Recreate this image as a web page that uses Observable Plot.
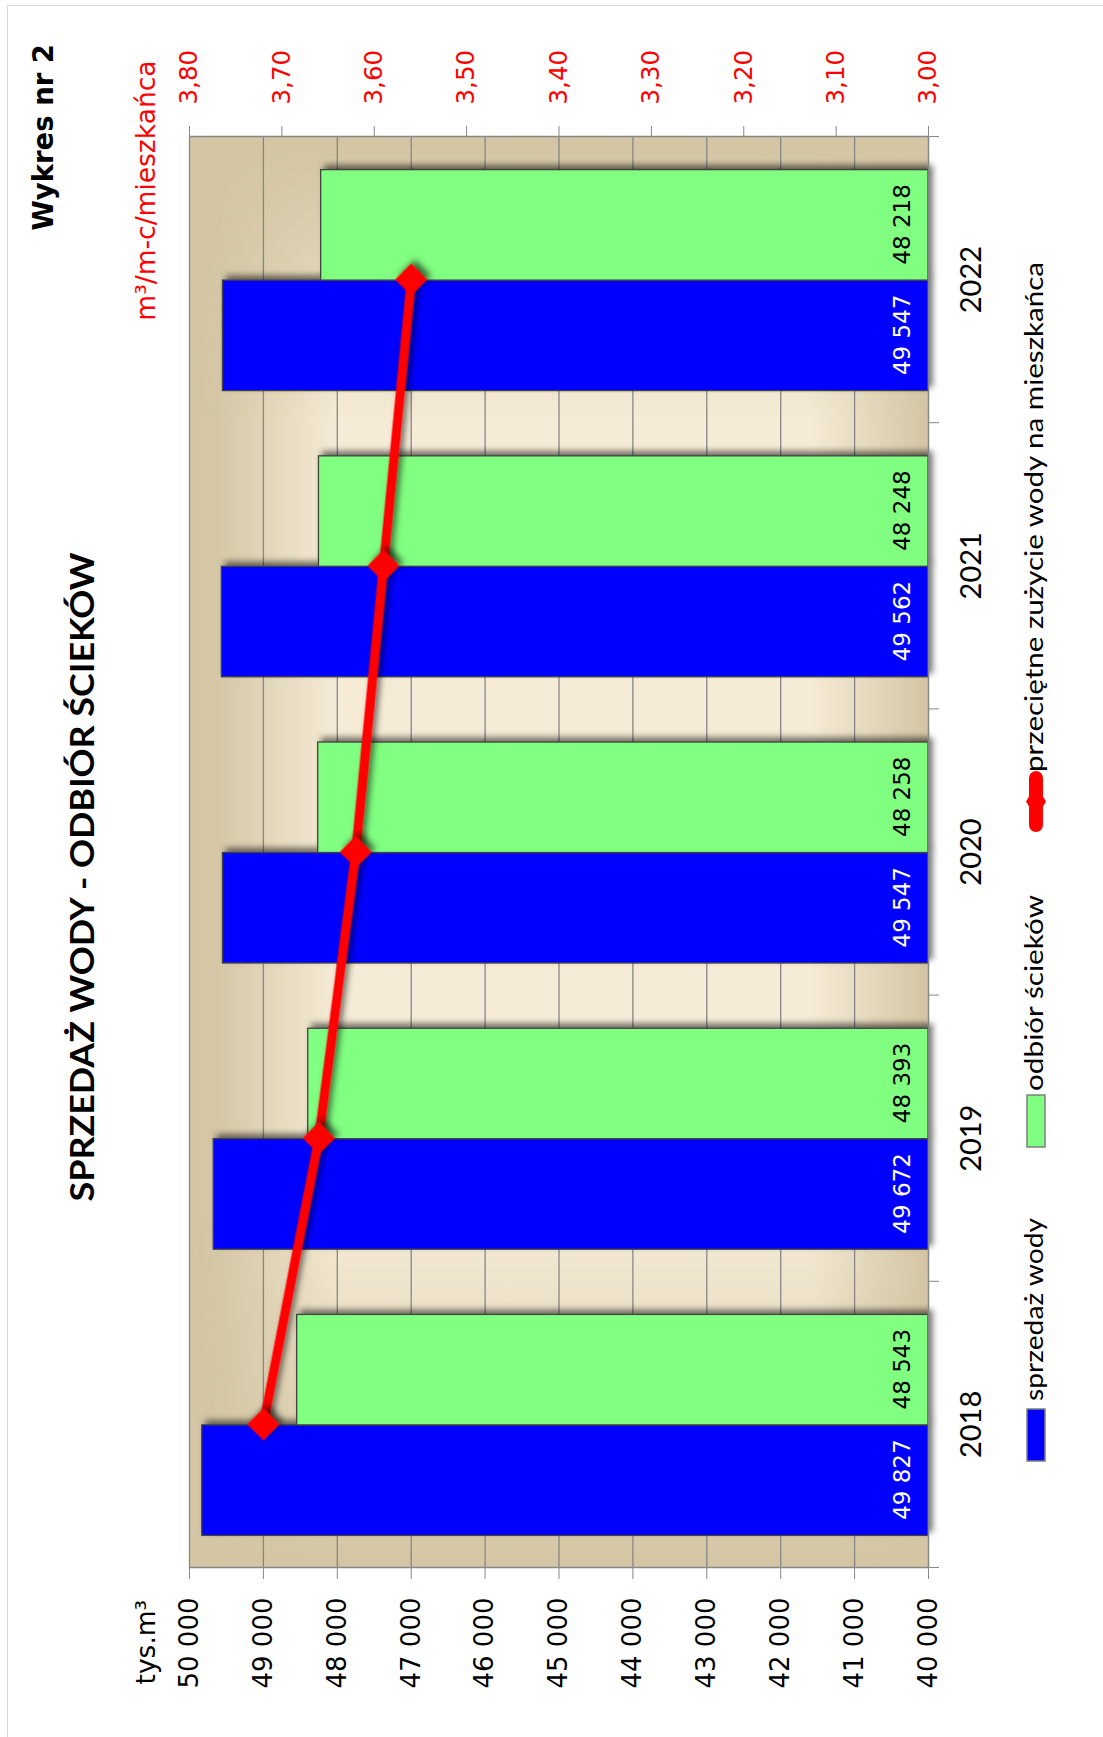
<!DOCTYPE html>
<html>
<head>
<meta charset="utf-8">
<script src="https://cdn.jsdelivr.net/npm/d3@7"></script>
<script src="https://cdn.jsdelivr.net/npm/@observablehq/plot@0.6"></script>
<style>
  html, body { margin: 0; padding: 0; background: #fff; overflow: hidden; width: 1103px; height: 1737px; }
  #land { position: absolute; left: 0; top: 0; width: 1737px; height: 1103px; background: #fff;
          transform-origin: 0 0; transform: translate(0px, 1737px) rotate(-90deg); }
  #border { position: absolute; left: -10px; top: 7px; width: 1742px; height: 1200px; box-sizing: border-box;
            border: 1.5px solid #d9d9d9; }
  #head { position: absolute; left: 0; top: 0; }
  #chart { position: absolute; left: 0; top: 100px; width: 1737px; height: 900px; }
  #legend { position: absolute; left: 0; top: 1000px; }
</style>
</head>
<body>
<div id="land">
  <div id="border"></div>
  <svg id="head" width="1737" height="100"></svg>
  <div id="chart"></div>
  <svg id="legend" width="1737" height="103"></svg>
</div>
<script>
// ---------- data ----------
const years = ["2018", "2019", "2020", "2021", "2022"];
const sprzedazWody = [49827, 49672, 49547, 49562, 49547];
const odbiorSciekow = [48543, 48393, 48258, 48248, 48218];
const zuzycieNaMieszkanca = [3.72, 3.66, 3.62, 3.59, 3.56];
const leftTicks = [40000, 41000, 42000, 43000, 44000, 45000, 46000, 47000, 48000, 49000, 50000];
const rightTicks = [3.00, 3.10, 3.20, 3.30, 3.40, 3.50, 3.60, 3.70, 3.80];
const seriesNames = ["sprzedaż wody", "odbiór ścieków", "przeciętne zużycie wody na mieszkańca"];
const titleText = "SPRZEDAŻ WODY - ODBIÓR ŚCIEKÓW";
const chartNo = "Wykres nr 2";
const leftUnit = "tys.m³";
const rightUnit = "m³/m-c/mieszkańca";

// ---------- style ----------
const BLUE = "#0000FF", GREEN = "#80FF80", RED = "#FF0000";
const GRAY = "#878787", OUTLINE = "#404040";
const TAN = "#D4C6A4", CREAM = "#F5EBD6";
const PAD = 0.114; // outer gap of each category band

const pl = d3.formatLocale({decimal: ",", thousands: "\u00a0", grouping: [3], currency: ["", ""]});
const fmtInt = pl.format(",.0f");
const fmtR = pl.format(".2f");
const toY = d3.scaleLinear().domain([rightTicks[0], rightTicks[rightTicks.length - 1]])
                            .range([leftTicks[0], leftTicks[leftTicks.length - 1]]);
const idx = d3.range(years.length);
const base = leftTicks[0];

const plot = Plot.plot({
  width: 1737, height: 900,
  marginLeft: 169, marginRight: 137, marginTop: 89, marginBottom: 72,
  x: {domain: [0, years.length], axis: null},
  y: {domain: [leftTicks[0], leftTicks[leftTicks.length - 1]], axis: null},
  style: {fontFamily: "'DejaVu Sans', sans-serif", background: "transparent", overflow: "visible"},
  marks: [
    Plot.frame({fill: TAN}),
    Plot.frame({fill: "url(#creamX)"}),
    Plot.gridY(leftTicks.filter(t => t > base), {stroke: GRAY, strokeOpacity: 1, strokeWidth: 1.3}),
    Plot.rect(idx, {x1: i => i + PAD, x2: i => i + 0.5, y1: base, y2: i => sprzedazWody[i],
                    fill: BLUE, stroke: OUTLINE, strokeWidth: 1.3}),
    Plot.rect(idx, {x1: i => i + 0.5, x2: i => i + 1 - PAD, y1: base, y2: i => odbiorSciekow[i],
                    fill: GREEN, stroke: OUTLINE, strokeWidth: 1.3}),
    Plot.ruleX([0, years.length], {stroke: GRAY, strokeWidth: 1.5}),
    Plot.ruleY([base], {stroke: GRAY, strokeWidth: 1.5}),
    Plot.axisY(leftTicks, {anchor: "left", tickSize: 11, tickPadding: 19, tickFormat: fmtInt,
                           stroke: GRAY, fill: "#000", fontSize: 26, label: null}),
    Plot.axisY(rightTicks.map(v => toY(v)), {anchor: "right", tickSize: 10, tickPadding: 22,
                           tickFormat: y => fmtR(toY.invert(y)), stroke: GRAY, fill: RED, fontSize: 24.5, label: null}),
    Plot.axisX(d3.range(years.length + 1), {anchor: "bottom", tickSize: 11, tickFormat: () => "",
                           stroke: GRAY, label: null}),
    Plot.axisX(idx.map(i => i + 0.5), {anchor: "bottom", tickSize: 0, tickPadding: 32,
                           tickFormat: d => years[Math.floor(d)], fill: "#000", fontSize: 29,
                           fontFamily: "Lato, sans-serif", label: null}),
    Plot.line(idx, {x: i => i + 0.5, y: i => toY(zuzycieNaMieszkanca[i]), stroke: RED, strokeWidth: 9,
                    strokeLinejoin: "round"}),
    Plot.dot(idx, {x: i => i + 0.5, y: i => toY(zuzycieNaMieszkanca[i]), symbol: "diamond2", r: 14.5,
                   fill: RED, stroke: null}),
    Plot.text(idx, {x: i => i + (PAD + 0.5) / 2, y: base, text: i => fmtInt(sprzedazWody[i]), dy: -26,
                    fill: "#fff", fontSize: 23}),
    Plot.text(idx, {x: i => i + 0.5 + (0.5 - PAD) / 2, y: base, text: i => fmtInt(odbiorSciekow[i]), dy: -26,
                    fill: "#000", fontSize: 23}),
    Plot.text([leftUnit], {frameAnchor: "top-left", dx: -117, dy: -53, textAnchor: "start", fill: "#000", fontSize: 26.5}),
    Plot.text([rightUnit], {frameAnchor: "top-right", dx: 76, dy: -53, textAnchor: "end", fill: RED, fontSize: 26.5})
  ]
});
document.getElementById("chart").appendChild(plot);

// ---------- defs: background gradient, mask, shadow ----------
const svg = d3.select(plot);
const defs = svg.insert("defs", ":first-child");
const gx = defs.append("linearGradient").attr("id", "creamX").attr("x1", 0).attr("y1", 0).attr("x2", 1).attr("y2", 0);
[[0, 0], [0.02, 0.08], [0.12, 0.5], [0.25, 1], [0.8, 1], [0.9, 0.5], [0.98, 0.05], [1, 0]]
  .forEach(([o, a]) => gx.append("stop").attr("offset", o).attr("stop-color", CREAM).attr("stop-opacity", a));
const gy = defs.append("linearGradient").attr("id", "gradY").attr("x1", 0).attr("y1", 0).attr("x2", 0).attr("y2", 1);
[[0, 0], [0.04, 0.05], [0.2, 1], [0.84, 1], [1, 0]]
  .forEach(([o, a]) => gy.append("stop").attr("offset", o).attr("stop-color", "#fff").attr("stop-opacity", a));
const mk = defs.append("mask").attr("id", "maskY").attr("maskContentUnits", "objectBoundingBox");
mk.append("rect").attr("x", 0).attr("y", 0).attr("width", 1).attr("height", 1).attr("fill", "url(#gradY)");
const flt = defs.append("filter").attr("id", "shadow").attr("x", "-10%").attr("y", "-10%").attr("width", "125%").attr("height", "125%");
flt.append("feDropShadow").attr("dx", 4).attr("dy", 4).attr("stdDeviation", 3)
   .attr("flood-color", "#000").attr("flood-opacity", 0.55);

const frames = plot.querySelectorAll('[aria-label="frame"]');
if (frames.length > 1) frames[1].setAttribute("mask", "url(#maskY)");
plot.querySelectorAll('g[aria-label="rect"], g[aria-label="line"], g[aria-label="dot"]')
    .forEach(g => g.setAttribute("filter", "url(#shadow)"));

// ---------- header ----------
const head = d3.select("#head");
head.append("text").text(titleText)
  .attr("x", 860).attr("y", 94).attr("text-anchor", "middle")
  .attr("font-family", "Lato, sans-serif").attr("font-weight", "bold").attr("font-size", 33)
  .attr("textLength", 649).attr("lengthAdjust", "spacingAndGlyphs");
head.append("text").text(chartNo)
  .attr("x", 1693).attr("y", 53).attr("text-anchor", "end")
  .attr("font-family", "'DejaVu Sans', sans-serif").attr("font-weight", "bold").attr("font-size", 27.5);

// ---------- legend ----------
const lg = d3.select("#legend");
const cy = 36;
lg.append("rect").attr("x", 276).attr("y", cy - 9).attr("width", 52).attr("height", 18)
  .attr("fill", BLUE).attr("stroke", "#7f7f7f").attr("stroke-width", 1.5);
lg.append("text").text(seriesNames[0]).attr("x", 336).attr("y", cy + 6.5)
  .attr("font-family", "Lato, sans-serif").attr("font-size", 25)
  .attr("textLength", 183).attr("lengthAdjust", "spacingAndGlyphs");
lg.append("rect").attr("x", 590).attr("y", cy - 9).attr("width", 52).attr("height", 18)
  .attr("fill", GREEN).attr("stroke", "#7f7f7f").attr("stroke-width", 1.5);
lg.append("text").text(seriesNames[1]).attr("x", 646).attr("y", cy + 6.5)
  .attr("font-family", "Lato, sans-serif").attr("font-size", 25)
  .attr("textLength", 196).attr("lengthAdjust", "spacingAndGlyphs");
lg.append("line").attr("x1", 912).attr("x2", 959).attr("y1", cy).attr("y2", cy)
  .attr("stroke", RED).attr("stroke-width", 14).attr("stroke-linecap", "round");
lg.append("polygon").attr("points", [[919, cy], [935.5, cy - 10], [952, cy], [935.5, cy + 10]].join(" "))
  .attr("fill", RED);
lg.append("text").text(seriesNames[2]).attr("x", 965).attr("y", cy + 6.5)
  .attr("font-family", "Lato, sans-serif").attr("font-size", 25)
  .attr("textLength", 510).attr("lengthAdjust", "spacingAndGlyphs");
</script>
</body>
</html>
